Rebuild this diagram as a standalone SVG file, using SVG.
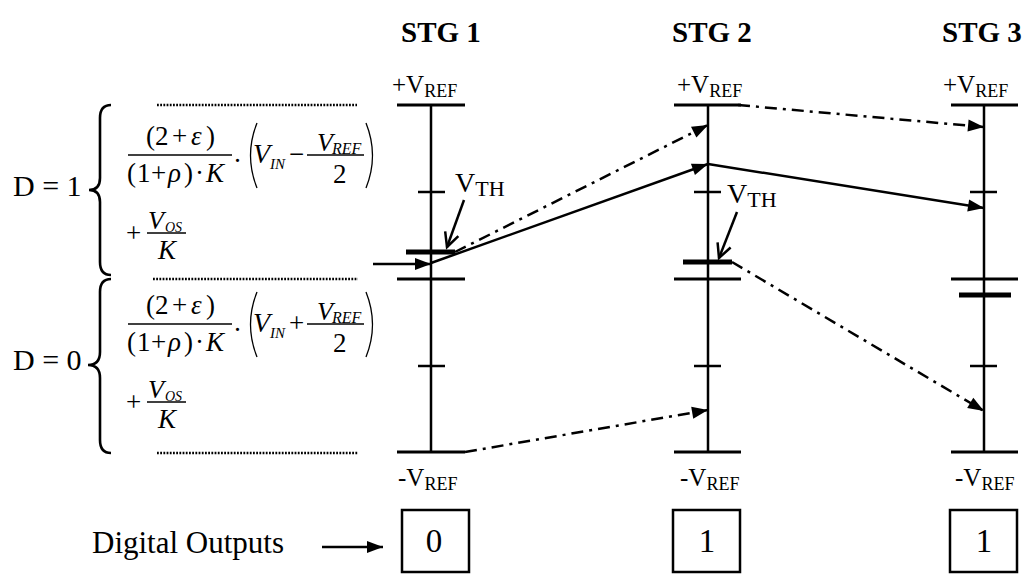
<svg xmlns="http://www.w3.org/2000/svg" width="1035" height="575" viewBox="0 0 1035 575">
<style>
text{font-family:"Liberation Serif","Times New Roman",serif;fill:#000}
.stg{font-size:29px;font-weight:bold}
.lbl{font-size:25px}
.sub{font-size:18px}
.m{font-size:27px}
.i{font-style:italic}
.ax{stroke:#000;stroke-width:2.5;fill:none}
.bar{stroke:#000;stroke-width:3;fill:none}
.thick{stroke:#000;stroke-width:5;fill:none}
.solid{stroke:#000;stroke-width:2.5;fill:none}
.dd{stroke:#000;stroke-width:2.5;fill:none;stroke-dasharray:12 6 3 6}
.dot{stroke:#000;stroke-width:2.4;fill:none;stroke-dasharray:1.8 1.4}
.fb{stroke:#000;stroke-width:1.3;fill:none}
.brace{stroke:#000;stroke-width:2.6;fill:none}
.box{stroke:#000;stroke-width:2.5;fill:#fff}
</style>
<defs>
<marker id="ah" markerUnits="userSpaceOnUse" markerWidth="18" markerHeight="14" refX="16" refY="6" orient="auto" overflow="visible">
<path d="M0,0 L16,6 L0,12 z" fill="#000"/>
</marker>
<marker id="oa" markerUnits="userSpaceOnUse" markerWidth="18" markerHeight="16" refX="14" refY="7" orient="auto" overflow="visible">
<path d="M0,0 L14,7 L0,14" fill="none" stroke="#000" stroke-width="2.5"/>
</marker>
<g id="formula">
<text class="m"><tspan x="146" y="145">(</tspan><tspan x="155" y="145">2</tspan><tspan x="172" y="145">+</tspan><tspan x="191" y="145" class="i">ε</tspan><tspan x="206" y="145">)</tspan></text>
<line class="fb" x1="128" y1="155" x2="232" y2="155"/>
<text class="m"><tspan x="127" y="182">(</tspan><tspan x="137" y="182">1</tspan><tspan x="151" y="182">+</tspan><tspan x="168" y="182" class="i">ρ</tspan><tspan x="184" y="182">)</tspan><tspan x="195" y="182">·</tspan><tspan x="206" y="182" class="i">K</tspan></text>
<text class="m" x="233" y="170">·</text>
<path class="fb" d="M257,123 Q244,155.5 257,188"/>
<path class="fb" d="M366,123 Q379,155.5 366,188"/>
<text class="i" font-size="28" x="253" y="163">V</text>
<text class="i" font-size="15" x="270" y="169">IN</text>
<line class="fb" x1="307" y1="155" x2="364" y2="155"/>
<text class="i" font-size="26" x="317" y="151">V</text>
<text class="i" font-size="16" x="332" y="154">REF</text>
<text class="m" x="333" y="183">2</text>
<text class="m" x="126" y="242">+</text>
<line class="fb" x1="147" y1="233" x2="186" y2="233"/>
<text class="i" font-size="26" x="148" y="229">V</text>
<text class="i" font-size="14" x="165" y="232">OS</text>
<text class="i m" x="158" y="259">K</text>
</g>
</defs>

<g id="left-labels">
<text x="13" y="196" font-size="30">D = 1</text>
<text x="13" y="370" font-size="30">D = 0</text>
<path class="brace" d="M111,105 Q100,105 100,118 L100,178 Q100,190 89,190 Q100,190 100,202 L100,262 Q100,275 111,275"/>
<path class="brace" d="M111,279 Q100,279 100,292 L100,352 Q100,365 88,365 Q100,365 100,378 L100,440 Q100,453 111,453"/>
<line class="dot" x1="157" y1="105" x2="357" y2="105"/>
<line class="dot" x1="153" y1="279" x2="358" y2="279"/>
<line class="dot" x1="157" y1="453" x2="358" y2="453"/>
</g>

<g id="formula-d1">
<use href="#formula"/>
<text class="m" x="289" y="163">−</text>
</g>
<g id="formula-d0" transform="translate(0,169)">
<use href="#formula"/>
<text class="m" x="289" y="163">+</text>
</g>

<g id="stg1">
<text class="stg" x="401" y="42">STG 1</text>
<text class="lbl" x="392" y="93">+V<tspan class="sub" dy="4">REF</tspan></text>
<line class="ax" x1="431" y1="105" x2="431" y2="452"/>
<line class="bar" x1="397" y1="105" x2="465" y2="105"/>
<line class="bar" x1="397" y1="279" x2="465" y2="279"/>
<line class="bar" x1="397" y1="452" x2="465" y2="452"/>
<line class="ax" x1="418" y1="192" x2="445" y2="192"/>
<line class="ax" x1="418" y1="366" x2="445" y2="366"/>
<line class="thick" x1="406" y1="252" x2="455" y2="252"/>
<text x="455" y="192" font-size="28">V<tspan font-size="22" dy="4">TH</tspan></text>
<text class="lbl" x="398" y="486">-V<tspan class="sub" dy="4">REF</tspan></text>
</g>

<g id="stg2">
<text class="stg" x="672" y="42">STG 2</text>
<text class="lbl" x="677" y="93">+V<tspan class="sub" dy="4">REF</tspan></text>
<line class="ax" x1="708" y1="105" x2="708" y2="452"/>
<line class="bar" x1="674" y1="105" x2="741" y2="105"/>
<line class="bar" x1="674" y1="279" x2="741" y2="279"/>
<line class="bar" x1="674" y1="452" x2="741" y2="452"/>
<line class="ax" x1="694" y1="192" x2="721" y2="192"/>
<line class="ax" x1="694" y1="366" x2="721" y2="366"/>
<line class="thick" x1="683" y1="262" x2="732" y2="262"/>
<text x="727" y="203" font-size="28">V<tspan font-size="22" dy="4">TH</tspan></text>
<text class="lbl" x="680" y="486">-V<tspan class="sub" dy="4">REF</tspan></text>
</g>

<g id="stg3">
<text class="stg" x="942" y="42">STG 3</text>
<text class="lbl" x="943" y="93">+V<tspan class="sub" dy="4">REF</tspan></text>
<line class="ax" x1="984" y1="105" x2="984" y2="452"/>
<line class="bar" x1="951" y1="105" x2="1018" y2="105"/>
<line class="bar" x1="951" y1="279" x2="1018" y2="279"/>
<line class="bar" x1="951" y1="452" x2="1018" y2="452"/>
<line class="ax" x1="970" y1="192" x2="997" y2="192"/>
<line class="ax" x1="970" y1="366" x2="997" y2="366"/>
<line class="thick" x1="959" y1="295" x2="1011" y2="295"/>
<text class="lbl" x="955" y="486">-V<tspan class="sub" dy="4">REF</tspan></text>
</g>

<g id="outputs">
<text x="92" y="553" font-size="31">Digital Outputs</text>
<rect class="box" x="402" y="510" width="67" height="62"/>
<text x="434" y="552" font-size="33" text-anchor="middle">0</text>
<rect class="box" x="673" y="510" width="67" height="62"/>
<text x="707" y="552" font-size="33" text-anchor="middle">1</text>
<rect class="box" x="950" y="510" width="67" height="62"/>
<text x="984" y="552" font-size="33" text-anchor="middle">1</text>
</g>

<g id="connectors">
<line class="solid" x1="373" y1="264" x2="431" y2="264" marker-end="url(#ah)"/>
<line class="solid" x1="431" y1="263" x2="708" y2="164" marker-end="url(#ah)"/>
<line class="dd" x1="455" y1="252" x2="708" y2="125" marker-end="url(#ah)"/>
<line class="dd" x1="738" y1="105" x2="984" y2="127" marker-end="url(#ah)"/>
<line class="solid" x1="708" y1="164" x2="984" y2="208" marker-end="url(#ah)"/>
<line class="dd" x1="732" y1="262" x2="984" y2="411" marker-end="url(#ah)"/>
<line class="dd" x1="465" y1="452" x2="708" y2="410" marker-end="url(#ah)"/>
<line class="solid" x1="464" y1="200" x2="447" y2="247" marker-end="url(#oa)"/>
<line class="solid" x1="737" y1="212" x2="719" y2="258" marker-end="url(#oa)"/>
<line class="solid" x1="322" y1="547" x2="383" y2="547" marker-end="url(#ah)"/>
</g>
</svg>
